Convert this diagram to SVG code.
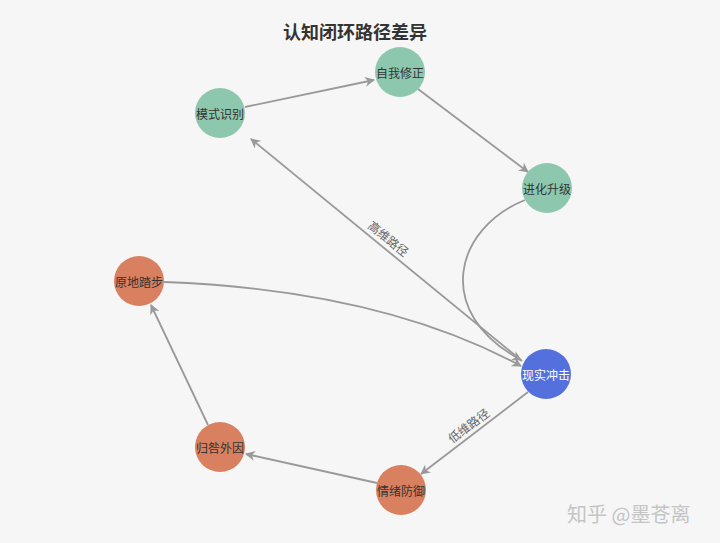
<svg xmlns="http://www.w3.org/2000/svg" width="720" height="543" viewBox="0 0 720 543">
<style>
.bg{fill:#f6f6f6}
.title{font-family:"Noto Sans CJK SC","Noto Sans",sans-serif;font-size:18px;font-weight:bold;fill:#333}
.lbl{font-family:"Noto Sans CJK SC",sans-serif;font-size:12px;fill:#333;text-anchor:middle;dominant-baseline:central}
.elbl{font-family:"Noto Sans CJK SC",sans-serif;font-size:12px;fill:#666;text-anchor:middle;dominant-baseline:central}
.edge{fill:none;stroke:#999;stroke-width:1.8;marker-end:url(#arr)}
.green{fill:#8dc8ae}
.orange{fill:#d8805f}
.blue{fill:#5470dc}
.wm{font-family:"Noto Sans CJK SC",sans-serif;font-size:20px;fill:#c4c4c4}
</style>
<defs>
<marker id="arr" viewBox="0 0 10 10" refX="9" refY="5" markerWidth="10" markerHeight="10" markerUnits="userSpaceOnUse" orient="auto">
<path d="M0,0 L10,5 L0,10 L3,5 z" fill="#999"/>
</marker>
</defs>
<rect class="bg" x="0" y="0" width="720" height="543"/>
<text class="title" x="355" y="39" text-anchor="middle">认知闭环路径差异</text>
<g id="edges">
<path class="edge" d="M245,107 L374,80"/>
<path class="edge" d="M418,89 L528,172"/>
<path class="edge" d="M525,200 C455,228 432,312 521,360"/>
<path class="edge" d="M522,361 L251,139"/>
<path class="edge" d="M164,282 Q380,290 521,366"/>
<path class="edge" d="M528,392 L421,474"/>
<path class="edge" d="M377,483 L246,454"/>
<path class="edge" d="M208,425 L151,305"/>
<text class="elbl" transform="translate(389,238) rotate(39)">高维路径</text>
<text class="elbl" transform="translate(468,425) rotate(-37)">低维路径</text>
</g>
<g id="n-mosh"><circle class="green" cx="220" cy="113" r="25"/><text class="lbl" x="220" y="113">模式识别</text></g>
<g id="n-zwxz"><circle class="green" cx="400" cy="72" r="25"/><text class="lbl" x="400" y="72">自我修正</text></g>
<g id="n-jhsj"><circle class="green" cx="547" cy="188" r="25"/><text class="lbl" x="547" y="188">进化升级</text></g>
<g id="n-ydtb"><circle class="orange" cx="139" cy="281" r="25"/><text class="lbl" x="139" y="281">原地踏步</text></g>
<g id="n-xscj"><circle class="blue" cx="546" cy="374" r="25"/><text class="lbl" x="546" y="374" style="fill:#fff">现实冲击</text></g>
<g id="n-gjwy"><circle class="orange" cx="220" cy="447" r="25"/><text class="lbl" x="220" y="447">归咎外因</text></g>
<g id="n-qxfy"><circle class="orange" cx="401" cy="490" r="25"/><text class="lbl" x="401" y="490">情绪防御</text></g>
<text class="wm" x="567" y="522">知乎 @墨苍离</text>
</svg>
